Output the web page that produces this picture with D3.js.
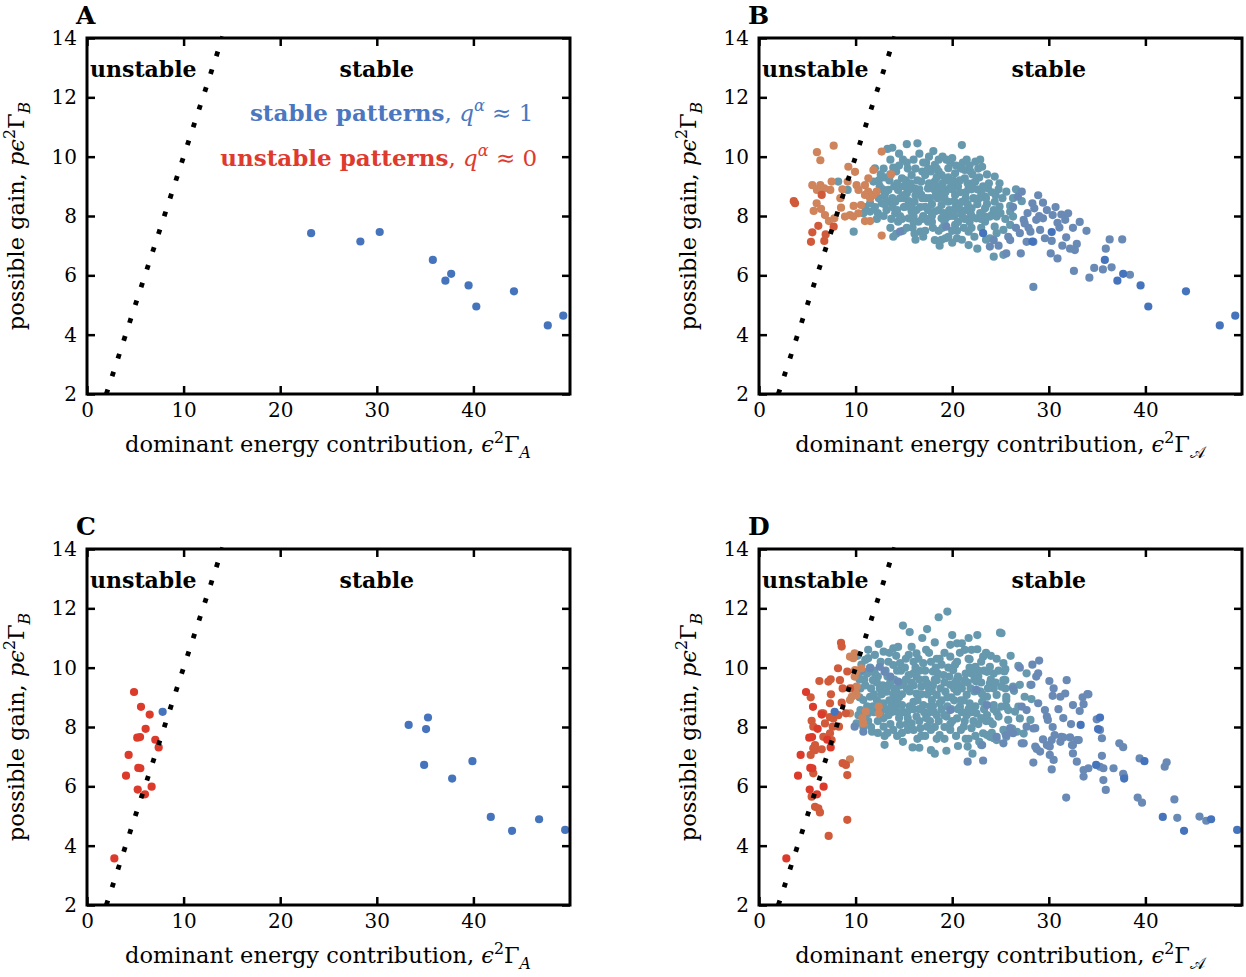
<!DOCTYPE html>
<html>
<head>
<meta charset="utf-8">
<script src="https://cdn.jsdelivr.net/npm/d3@7"></script>
<style>
  body { margin: 0; background: #fff; }
  svg text { font-family: "DejaVu Serif", "Liberation Serif", serif; }
</style>
</head>
<body>
<svg id="chart" width="1246" height="977"></svg>
<script>
// ---- data ----
const xTicks = [0, 10, 20, 30, 40];
const yTicks = [2, 4, 6, 8, 10, 12, 14];
const xDomain = [0, 50];
const yDomain = [2, 14];
// stability boundary  (y = x), drawn dotted
const boundary = [[2, 2], [14.05, 14.05]];

// panel A : stable patterns only
const aStable = [[23.2,7.42],[28.3,7.14],[30.3,7.46],[35.8,6.52],[37.1,5.82],[37.7,6.05],[39.5,5.66],[40.3,4.95],[44.2,5.46],[47.7,4.31],[49.3,4.64]];

// panel B : extra points, grouped by their colour (q value)
const bRed = [[3.73,8.43],[3.6,8.5],[6.49,8.71],[7.73,7.64],[6.14,7.67],[5.52,7.45],[5.38,7.13],[6.76,7.16],[6.9,7.38]];
const bOrange = [[6.0,10.15],[7.73,10.37],[6.35,9.88],[5.52,9.04],[6.35,9.04],[6.0,8.88],[6.76,8.93],[7.52,9.16],[7.38,8.88],[5.97,8.43],[5.66,8.17],[6.42,8.24],[6.83,8.03],[7.24,7.83],[7.8,7.92],[8.49,8.28],[8.42,8.6],[8.63,8.9],[9.25,9.66],[9.94,9.49],[9.18,9.16],[10.1,9.04],[10.3,8.88],[10.97,9.04],[11.3,8.82],[10.97,8.71],[11.5,8.6],[11.84,8.71],[12.18,8.82],[11.84,9.55],[11.32,9.27],[12.7,10.17],[13.66,9.4],[9.8,8.34],[9.42,8.03],[8.9,7.98],[9.76,7.98],[10.28,8.09],[10.56,8.37],[10.97,7.83],[11.5,7.83],[12.7,7.34]];
const bTeal = [[8.2,9.16],[9.18,8.88],[9.8,7.47],[10.8,8.09],[11.5,8.15],[11.5,8.43],[11.84,9.16],[12.0,9.61],[13.3,10.26],[13.9,9.63],[15.3,10.42],[16.4,10.45],[18.05,10.19],[21.0,10.39],[14.8,9.27],[15.8,9.38],[14.4,8.88],[13.4,8.48],[12.7,8.43],[13.2,8.2],[14.1,8.09],[15.1,8.31],[16.1,8.48],[16.8,8.71],[17.5,8.93],[18.2,9.16],[18.9,9.38],[19.6,9.61],[20.3,9.44],[21.3,9.55],[22.4,9.83],[23.1,9.66],[24.4,9.33],[23.7,8.93],[23.4,8.65],[24.4,8.48],[24.1,8.03],[23.4,7.81],[24.3,6.63],[21.7,7.02],[20.5,7.25],[19.3,7.25],[18.2,7.19],[16.7,7.47],[17.5,7.81],[18.9,7.92],[20.3,7.7],[21.0,8.03],[22.0,8.26],[21.7,7.47],[15.5,7.92],[16.5,7.81],[14.4,7.81],[15.3,8.76],[16.1,8.93],[16.8,9.16],[17.2,9.38],[18.2,9.72],[18.9,8.82],[19.6,8.48],[20.3,8.71],[21.0,8.48],[21.7,8.93],[22.4,9.16],[20.3,8.26],[18.2,8.15],[17.2,8.31],[15.8,8.15],[13.4,8.88],[14.1,8.48],[18.9,8.37],[19.9,9.04],[21.3,9.27],[22.5,7.92],[23.4,8.26],[24.6,7.98],[25.6,8.82],[24.9,8.32],[26.0,8.34],[26.0,8.14],[26.3,7.98],[23.9,7.98],[24.4,7.64],[25.3,7.53],[24.6,7.42],[23.9,7.25],[25.3,6.69],
  [12.5,9.0],[13.0,9.3],[13.6,9.9],[14.2,9.5],[14.9,9.9],[15.4,9.6],[16.0,9.9],[16.6,10.1],[17.3,9.8],[17.8,9.5],[18.6,9.9],[19.3,9.2],[19.8,9.8],[20.6,9.0],[21.1,9.8],[21.9,9.5],[22.8,9.3],[23.2,9.0],[12.9,8.0],[13.8,8.3],[14.6,8.6],[15.5,8.5],[16.3,8.2],[16.9,7.9],[17.7,8.6],[18.4,8.9],[19.2,8.6],[19.8,8.0],[20.7,8.4],[21.5,8.2],[22.2,8.6],[22.9,8.1],[23.0,7.6],[22.3,7.3],[21.2,7.6],[20.0,7.5],[19.0,7.6],[18.0,7.6],[17.0,7.3],[15.9,7.6],[14.9,7.5],[13.6,7.6],[12.2,7.9],[14.0,9.0],[15.0,9.0],[16.4,9.2],[17.6,9.1],[18.6,9.5],[19.6,9.3],[20.8,9.2],[22.0,8.9],[23.0,8.8],[12.4,8.6],[13.0,8.7],[17.9,8.0],[18.6,8.2],[19.4,7.95],[20.6,7.8],[21.8,7.8],[23.6,8.4],[24.8,8.9],[25.2,8.6],[24.9,9.1],[26.3,8.6],[26.6,8.9],[27.2,8.5],[26.0,7.7],[25.5,7.9],[22.6,6.9],[20.0,7.1],[18.7,7.0],[16.2,7.2],[13.9,7.3],[11.0,8.3],[12.0,8.3],
  [12.9,9.6],[13.5,9.2],[14.5,9.7],[15.2,9.2],[15.7,9.1],[16.2,9.6],[16.9,9.5],[17.5,9.6],[18.0,9.0],[18.4,9.3],[19.0,9.1],[19.5,8.9],[20.1,9.2],[20.9,9.6],[21.6,9.1],[22.1,9.4],[22.7,9.6],[23.6,9.4],[13.2,8.5],[13.8,8.6],[14.3,8.2],[15.0,8.6],[15.6,8.3],[16.0,8.0],[16.7,8.3],[17.3,8.6],[17.9,8.4],[18.5,8.6],[19.1,8.1],[19.7,8.2],[20.2,8.0],[20.9,8.2],[21.4,8.6],[22.0,8.0],[22.6,8.4],[23.3,8.0],[12.3,8.1],[13.7,7.9],[14.8,7.9],[15.3,7.6],[16.0,7.8],[17.2,7.5],[17.9,7.8],[18.6,7.5],[19.6,7.3],[20.5,7.5],[21.3,7.9],[22.0,7.6],[23.5,7.2],[19.0,10.0],[20.0,9.95],[17.6,10.0],[14.5,10.1],[13.8,10.3],[15.0,8.3],[16.6,8.9],[12.8,8.9],[19.4,9.9],[21.5,9.9],[22.9,9.9],[23.8,9.1],[24.5,8.7],[25.0,8.1],[17.0,8.0],[18.3,8.7],[20.0,8.9],[21.6,8.4],[22.6,8.9],[16.1,7.4],[14.2,7.4],[18.9,7.2],[21.0,7.2],[12.4,9.2],[12.7,8.9],
  [13.1,8.8],[13.6,9.4],[14.3,9.1],[14.9,8.7],[15.6,8.9],[16.2,8.7],[16.9,8.6],[17.5,8.2],[18.1,8.9],[18.8,9.0],[19.3,8.8],[20.2,8.5],[20.8,8.8],[21.4,8.8],[22.1,9.1],[22.8,8.6],[23.5,8.6],[24.1,8.8],[13.0,8.4],[14.6,8.0],[15.8,8.4],[17.6,7.9],[19.2,7.8],[20.4,8.2],[21.9,8.1],[23.0,7.9],[24.3,8.2],[15.3,9.8],[17.0,9.8],[18.4,9.6],[20.4,9.7],[21.8,9.7],[12.6,9.4]];
const bSlate = [[26.8,8.65],[27.2,8.82],[28.3,8.43],[28.5,8.26],[29.4,8.45],[30.4,8.03],[32.0,8.09],[31.7,7.87],[30.9,7.77],[31.1,7.61],[30.3,7.16],[31.8,7.28],[32.9,7.06],[32.7,6.85],[30.9,6.57],[30.2,6.74],[32.6,6.15],[34.2,5.92],[34.7,6.25],[35.6,6.2],[36.5,6.27],[35.9,6.9],[36.3,7.21],[37.6,7.21],[38.4,6.02],[28.4,5.61],[27.1,6.74],[25.6,6.74],[27.7,7.13],[28.4,7.13],[29.1,7.53],[29.6,7.25],[28.7,7.87],[29.4,7.92],[27.4,7.87],[27.5,7.75],[26.0,7.19],[27.0,7.42],[28.1,7.47],[24.3,7.19],[23.9,6.97],[26.3,8.3],[27.8,8.1],[28.9,8.7],[25.8,7.3],[24.8,7.0],[14.6,7.47],[19.4,7.64],
  [29.8,8.2],[30.7,8.3],[31.3,8.05],[32.5,7.6],[33.2,7.8],[33.9,7.5],[31.4,7.0],[32.2,6.9],[29.0,8.0],[26.6,7.6],[27.9,7.6]];

// panel C
const cUnstable = [[4.87,9.18],[5.59,8.68],[6.49,8.42],[6.07,7.94],[5.2,7.64],[5.49,7.66],[7.07,7.57],[7.42,7.31],[4.31,7.06],[5.31,6.62],[5.52,6.61],[4.04,6.36],[6.69,5.99],[5.25,5.89],[6.0,5.73],[2.83,3.57]];
const cStable = [[7.83,8.51],[33.3,8.07],[35.3,8.32],[35.1,7.93],[34.9,6.72],[39.9,6.85],[37.8,6.26],[41.8,4.97],[44.0,4.5],[46.8,4.89],[49.5,4.53]];

// panel D : extra points, grouped by colour
const dRedOrange = [[5.35,9.0],[5.62,8.01],[5.45,8.21],[6.49,8.46],[6.66,8.46],[7.45,9.1],[6.25,9.55],[7.18,9.53],[7.42,9.61],[8.38,9.58],[8.18,9.98],[8.49,10.84],[8.56,10.71],[9.14,9.87],[8.66,9.3],[7.35,8.8],[8.56,8.82],[8.21,8.4],[9.0,8.46],[7.7,8.29],[7.35,8.33],[6.83,8.12],[7.63,8.01],[8.28,8.01],[7.35,7.79],[6.66,7.67],[7.52,7.56],[5.8,7.39],[5.8,7.22],[6.49,7.25],[5.35,7.06],[5.62,7.28],[8.66,6.78],[9.0,6.72],[9.14,6.38],[5.62,6.44],[5.8,5.31],[6.14,5.26],[6.31,5.12],[5.45,5.65],[7.21,4.33],[9.14,4.87],[9.42,9.3]];
const dOrange = [[9.42,10.37],[9.94,9.92],[10.1,9.87],[9.77,9.3],[10.1,9.08],[9.42,6.91],[9.42,8.91],[9.9,10.48],[9.76,10.32],[10.6,9.98],[9.9,9.7],[10.1,9.36],[9.6,9.02],[12.4,8.69],[12.4,8.46],[10.8,8.12],[9.42,8.46],[10.7,8.3],[11.05,8.52],[9.94,9.25]];
const dTeal = [[18.6,11.7],[19.5,11.89],[14.9,11.42],[24.95,11.18],[18.2,10.85],[19.8,10.77],[20.5,10.82],[21.0,10.82],[22.6,10.62],[13.9,10.65],[12.9,10.54],[12.0,10.43],[11.3,10.32],[11.0,10.26],[16.3,10.48],[16.5,10.3],[15.5,10.43],[18.7,10.3],[19.8,10.37],[20.5,10.2],[21.7,10.3],[23.9,10.03],[23.6,9.86],[25.3,10.15],[21.8,10.0],[17.0,10.15],[14.6,10.15],[13.4,10.2],[13.9,10.09],[10.8,9.87],[10.3,9.75],[11.8,9.58],[15.5,9.75],[16.0,9.81],[18.0,9.87],[19.1,9.75],[20.1,9.92],[20.6,9.7],[17.4,9.47],[18.4,9.58],[19.8,9.42],[21.3,9.58],[22.5,9.53],[23.9,9.47],[25.3,9.58],[12.5,9.3],[13.2,9.19],[14.2,9.19],[15.3,9.3],[16.3,9.13],[16.8,9.36],[18.4,9.08],[19.3,9.19],[20.5,9.19],[21.5,9.08],[23.6,9.02],[24.6,9.08],[25.6,9.02],[25.5,9.3],[11.5,9.02],[10.8,8.91],[12.2,8.91],[12.9,8.8],[13.9,8.91],[14.8,8.74],[16.0,8.85],[17.0,8.74],[17.9,8.91],[18.7,8.8],[20.8,8.69],[21.8,8.8],[23.1,8.85],[24.3,8.74],[25.6,8.69],[10.5,8.57],[11.3,8.46],[13.4,8.4],[14.2,8.52],[15.3,8.46],[16.3,8.35],[17.5,8.46],[18.4,8.4],[19.4,8.35],[20.5,8.29],[21.5,8.4],[22.5,8.46],[23.6,8.4],[24.8,8.35],[10.1,8.12],[10.8,8.01],[11.7,7.84],[12.9,8.01],[13.9,7.9],[14.6,8.07],[15.8,8.12],[16.7,7.96],[17.4,8.01],[18.7,7.73],[19.8,7.9],[21.2,8.01],[22.0,7.96],[23.2,7.79],[23.9,7.67],[24.6,7.56],[25.5,7.79],[14.9,7.5],[15.9,7.31],[17.8,7.22],[20.6,7.36],[21.6,7.34],[21.8,10.28],[22.4,10.03],[23.2,10.37],
  [25.1,11.16],[26.05,10.4],[25.5,9.95],[25.4,9.87],[26.85,10.06],[27.7,9.81],[27.0,9.42],[28.1,9.42],[26.3,9.36],[26.4,9.22],[25.5,9.58],[25.1,9.36],[27.5,9.02],[28.2,8.94],[25.6,8.91],[25.1,8.69],[25.8,8.57],[26.5,8.52],[26.85,8.69],[25.8,8.24],[25.3,7.9],[25.6,7.67],[26.2,7.95],[26.7,7.84],[27.4,7.78],[27.0,8.29],[28.1,8.24],[23.6,7.73],[24.3,7.62],[23.0,7.39],
  [11.5,10.0],[12.3,9.7],[13.1,9.9],[14.0,9.6],[14.7,9.9],[15.1,10.0],[16.6,9.6],[17.2,9.9],[17.8,10.2],[18.9,10.1],[19.6,10.0],[20.3,9.5],[21.0,9.3],[22.0,9.8],[22.9,9.2],[24.3,9.8],[11.0,9.4],[11.9,9.1],[13.6,9.5],[14.8,9.1],[15.8,9.5],[17.4,9.1],[18.0,9.4],[19.9,9.0],[21.2,8.9],[22.3,9.2],[23.0,9.5],[24.3,9.3],[11.8,8.7],[12.6,8.5],[13.7,8.7],[14.5,8.3],[15.6,8.7],[16.6,8.6],[17.7,8.2],[18.9,8.6],[19.9,8.6],[21.0,8.5],[22.2,8.2],[23.3,8.6],[24.2,8.1],[11.3,8.2],[12.3,8.2],[13.3,7.8],[14.3,7.7],[15.4,7.9],[16.4,7.6],[17.2,7.7],[18.2,8.0],[19.2,7.6],[20.4,7.7],[21.7,7.6],[22.8,7.5],[12.6,10.2],[14.2,10.4],[15.8,10.7],[17.3,10.6],[16.9,11.0],[20.0,11.1],[22.0,10.6],[23.5,10.5],[10.5,9.3],[11.2,8.7],[24.6,10.3],[10.3,8.4],[10.4,9.0],
  [10.9,9.6],[11.6,9.3],[12.2,9.5],[12.7,9.1],[13.4,9.4],[14.0,9.3],[14.6,9.4],[15.2,9.6],[16.0,9.4],[16.6,9.9],[17.2,9.6],[17.9,9.2],[18.5,9.8],[19.2,9.5],[19.7,9.7],[20.5,9.6],[21.4,9.8],[21.9,9.3],[22.7,9.7],[23.3,9.9],[24.0,9.6],[24.8,9.9],[11.0,8.4],[11.9,8.5],[12.5,8.8],[13.1,8.6],[13.7,8.5],[14.3,8.8],[15.0,8.5],[15.7,8.6],[16.4,8.9],[17.1,8.5],[17.7,8.7],[18.1,8.5],[18.9,8.9],[19.5,8.7],[20.2,8.9],[20.9,8.9],[21.7,8.6],[22.4,8.7],[23.0,8.3],[23.9,8.2],[24.6,8.5],[11.6,8.0],[12.3,7.8],[13.0,7.7],[13.6,8.1],[14.8,7.8],[15.3,8.1],[16.0,7.9],[16.8,7.7],[17.8,7.9],[18.4,7.6],[19.2,8.0],[20.0,8.2],[20.9,7.9],[21.4,7.6],[22.4,7.7],[24.1,7.8],[11.3,10.6],[12.4,10.8],[13.5,10.5],[14.4,10.7],[15.2,10.3],[16.0,10.2],[17.6,10.5],[18.4,10.3],[19.2,10.5],[20.8,10.5],[21.3,10.6],[23.0,10.2],[24.0,10.4],[15.6,11.2],[17.4,11.3],[21.7,11.0],[22.6,11.1],[10.6,10.1],[10.2,10.4],[13.0,7.4],[16.6,7.3],[19.4,7.2],[18.2,7.1],[22.1,7.1],
  [10.4,9.6],[11.2,9.8],[11.9,9.9],[12.8,9.4],[13.3,9.7],[13.9,9.1],[14.5,9.0],[15.0,9.5],[15.6,9.2],[16.3,9.7],[16.8,9.1],[17.6,9.3],[18.2,9.6],[18.8,9.3],[19.5,9.0],[20.2,9.3],[20.9,9.4],[21.6,9.5],[22.3,9.6],[23.1,9.1],[23.7,9.3],[24.5,9.5],[11.5,8.6],[12.1,8.7],[12.9,8.3],[13.5,8.9],[14.1,8.6],[14.7,8.5],[15.4,8.3],[16.0,8.6],[16.6,8.2],[17.3,8.3],[18.0,8.7],[18.6,8.2],[19.2,8.4],[19.8,8.1],[20.6,8.6],[21.3,8.2],[22.0,8.5],[22.7,8.1],[23.5,8.2],[24.3,8.6],[12.0,9.8],[14.3,9.9],[16.2,10.0],[18.3,10.0],[20.3,10.1],[22.7,9.9]];
const dSlate = [[29.0,10.24],[30.06,9.55],[31.85,9.58],[28.9,9.81],[28.7,9.7],[30.4,9.05],[31.2,9.02],[31.7,9.13],[34.0,9.11],[33.5,9.0],[28.9,8.8],[32.5,8.74],[33.6,8.77],[29.6,8.57],[33.2,8.54],[29.9,8.24],[34.96,8.26],[35.3,7.9],[35.5,7.62],[37.3,7.45],[37.7,7.32],[28.4,7.95],[27.4,7.45],[28.6,7.34],[29.1,7.17],[29.8,7.39],[30.6,7.73],[31.3,7.67],[32.2,7.65],[30.3,7.56],[31.2,7.5],[32.5,7.39],[32.9,7.56],[30.1,7.06],[30.5,6.89],[28.4,6.8],[32.5,7.11],[32.9,6.83],[35.3,6.66],[36.7,6.61],[34.1,6.61],[35.5,7.03],[35.65,6.61],[37.7,6.42],[37.8,6.33],[35.65,6.21],[35.9,5.88],[33.6,6.55],[33.6,6.33],[31.8,5.62],[39.2,5.62],[39.65,5.45],[43.0,5.56],[43.3,4.94],[45.6,4.98],[46.3,4.84],[42.2,6.81],[42.0,6.66],[39.4,6.94],[30.3,6.57],[29.4,7.58],[30.1,7.34],[28.75,7.26],[29.8,8.35],[27.2,8.69],[27.7,8.57],[28.6,7.96],[27.7,8.01],[26.0,7.96],[26.3,7.79],[27.2,7.45],[25.3,7.45],[25.6,7.73],[24.6,7.67],[31.5,7.65],[33.1,7.56],[32.4,7.39],[28.2,9.42],[26.3,9.3],[34.1,9.1],[30.4,8.0],[31.5,8.3],[32.3,8.1],[31.0,8.6],[30.5,9.3],[27.0,10.0],[28.3,10.1],
  [12.5,10.03],[13.0,9.86],[11.5,9.98],[13.6,9.7],[14.4,9.53],[19.8,8.57],[22.5,9.25],[23.6,8.74],[12.4,8.52],[23.1,7.39],[21.6,6.83],[23.2,6.87],[9.9,8.01],[10.8,7.84],[10.6,9.92]];

// q value of each colour group
const qRed = 0.0, qRedOrange = 0.2, qOrange = 0.4, qTeal = 0.78, qSlate = 0.9, qBlue = 1.0;

const panels = [
  { label: "A", left: 87, top: 38, calA: false, legend: true,
    groups: [[aStable, qBlue]] },
  { label: "B", left: 759, top: 38, calA: true, legend: false,
    groups: [[bTeal, qTeal], [bSlate, qSlate], [bOrange, qOrange], [bRed, qRedOrange], [aStable, qBlue]] },
  { label: "C", left: 87, top: 549, calA: false, legend: false,
    groups: [[cUnstable, qRed], [cStable, qBlue]] },
  { label: "D", left: 759, top: 549, calA: true, legend: false,
    groups: [[dTeal, qTeal], [dSlate, qSlate], [dOrange, qOrange], [dRedOrange, qRedOrange], [cUnstable, qRed], [cStable, qBlue]] }
];

const pw = 483, ph = 356;
const blue = "#4a77bf", red = "#de3a2e";

const colour = d3.scaleLinear()
  .domain([0, 0.2, 0.4, 0.78, 0.9, 1])
  .range(["#dc3a2b", "#d15a3b", "#cf845b", "#6699ae", "#6a8ab6", "#4574bd"]);

const svg = d3.select("#chart");

// writes a list of [text, style] runs into a text element
function rich(textSel, runs) {
  let shift = 0;
  runs.forEach(([t, st]) => {
    const ts = textSel.append("tspan").text(t);
    st = st || "";
    let want = 0;
    if (st.includes("i")) ts.attr("font-style", "italic");
    if (st.includes("b")) ts.attr("font-weight", "bold");
    if (st.includes("^")) { want = -0.42; ts.attr("font-size", "0.7em"); }
    if (st.includes("_")) { want = 0.28; ts.attr("font-size", "0.7em"); }
    const fs = (st.includes("^") || st.includes("_")) ? 0.7 : 1;
    const dy = (want - shift);
    if (dy !== 0) ts.attr("dy", (dy / fs) + "em");
    shift = want;
  });
}

panels.forEach(p => {
  const g = svg.append("g");
  const x = d3.scaleLinear().domain(xDomain).range([p.left, p.left + pw]);
  const y = d3.scaleLinear().domain(yDomain).range([p.top + ph, p.top]);

  // ticks on all four sides, pointing inwards
  g.append("g").attr("transform", `translate(0,${p.top + ph})`)
    .call(d3.axisBottom(x).tickValues(xTicks).tickSize(-8).tickPadding(9));
  g.append("g").attr("transform", `translate(${p.left},0)`)
    .call(d3.axisLeft(y).tickValues(yTicks).tickSize(-8).tickPadding(10));
  g.append("g").attr("transform", `translate(0,${p.top})`)
    .call(d3.axisTop(x).tickValues(xTicks).tickSize(-8).tickFormat(""));
  g.append("g").attr("transform", `translate(${p.left + pw},0)`)
    .call(d3.axisRight(y).tickValues(yTicks).tickSize(-8).tickFormat(""));
  g.selectAll(".domain").remove();
  g.selectAll(".tick line").attr("stroke", "#000").attr("stroke-width", 2.5);
  g.selectAll(".tick text").attr("font-size", 20).attr("fill", "#000")
    .style("font-family", '"DejaVu Serif", serif');

  // points
  p.groups.forEach(([pts, q]) => {
    g.append("g").selectAll("circle").data(pts).join("circle")
      .attr("cx", d => x(d[0]))
      .attr("cy", d => y(d[1]))
      .attr("r", 4.1)
      .attr("fill", colour(q));
  });

  // dotted boundary
  g.append("path")
    .datum(boundary)
    .attr("d", d3.line().x(d => x(d[0])).y(d => y(d[1])))
    .attr("fill", "none").attr("stroke", "#000")
    .attr("stroke-width", 4.8)
    .attr("stroke-dasharray", "4.8 13.9");

  // frame
  g.append("rect").attr("x", p.left).attr("y", p.top).attr("width", pw).attr("height", ph)
    .attr("fill", "none").attr("stroke", "#000").attr("stroke-width", 3);

  // panel letter
  g.append("text").attr("x", p.left - 11).attr("y", p.top - 14)
    .attr("font-size", 25).attr("font-weight", "bold").text(p.label);

  // region names
  g.append("text").attr("x", p.left + 3).attr("y", p.top + 39)
    .attr("font-size", 22).attr("font-weight", "bold").text("unstable");
  g.append("text").attr("x", x(30)).attr("y", p.top + 39).attr("text-anchor", "middle")
    .attr("font-size", 22).attr("font-weight", "bold").text("stable");

  // axis titles
  const xl = g.append("text").attr("x", p.left + 241).attr("y", p.top + ph + 58)
    .attr("text-anchor", "middle").attr("font-size", 22.5);
  rich(xl, [["dominant energy contribution, "], ["ϵ", "i"], ["2", "^"], ["Γ"], [p.calA ? "𝒜" : "A", p.calA ? "_" : "i_"]]);
  const yl = g.append("text")
    .attr("transform", `translate(${p.left - 63},${p.top + ph / 2}) rotate(-90)`)
    .attr("text-anchor", "middle").attr("font-size", 22.5);
  rich(yl, [["possible gain, "], ["p", "i"], ["ϵ", "i"], ["2", "^"], ["Γ"], ["B", "i_"]]);

  if (p.legend) {
    const l1 = g.append("text").attr("x", x(46.2)).attr("y", p.top + 83)
      .attr("text-anchor", "end").attr("font-size", 23).attr("fill", blue);
    rich(l1, [["stable patterns", "b"], [", "], ["q", "i"], ["α", "i^"], [" ≈ 1"]]);
    const l2 = g.append("text").attr("x", x(46.6)).attr("y", p.top + 128)
      .attr("text-anchor", "end").attr("font-size", 23).attr("fill", red);
    rich(l2, [["unstable patterns", "b"], [", "], ["q", "i"], ["α", "i^"], [" ≈ 0"]]);
  }
});
</script>
</body>
</html>
